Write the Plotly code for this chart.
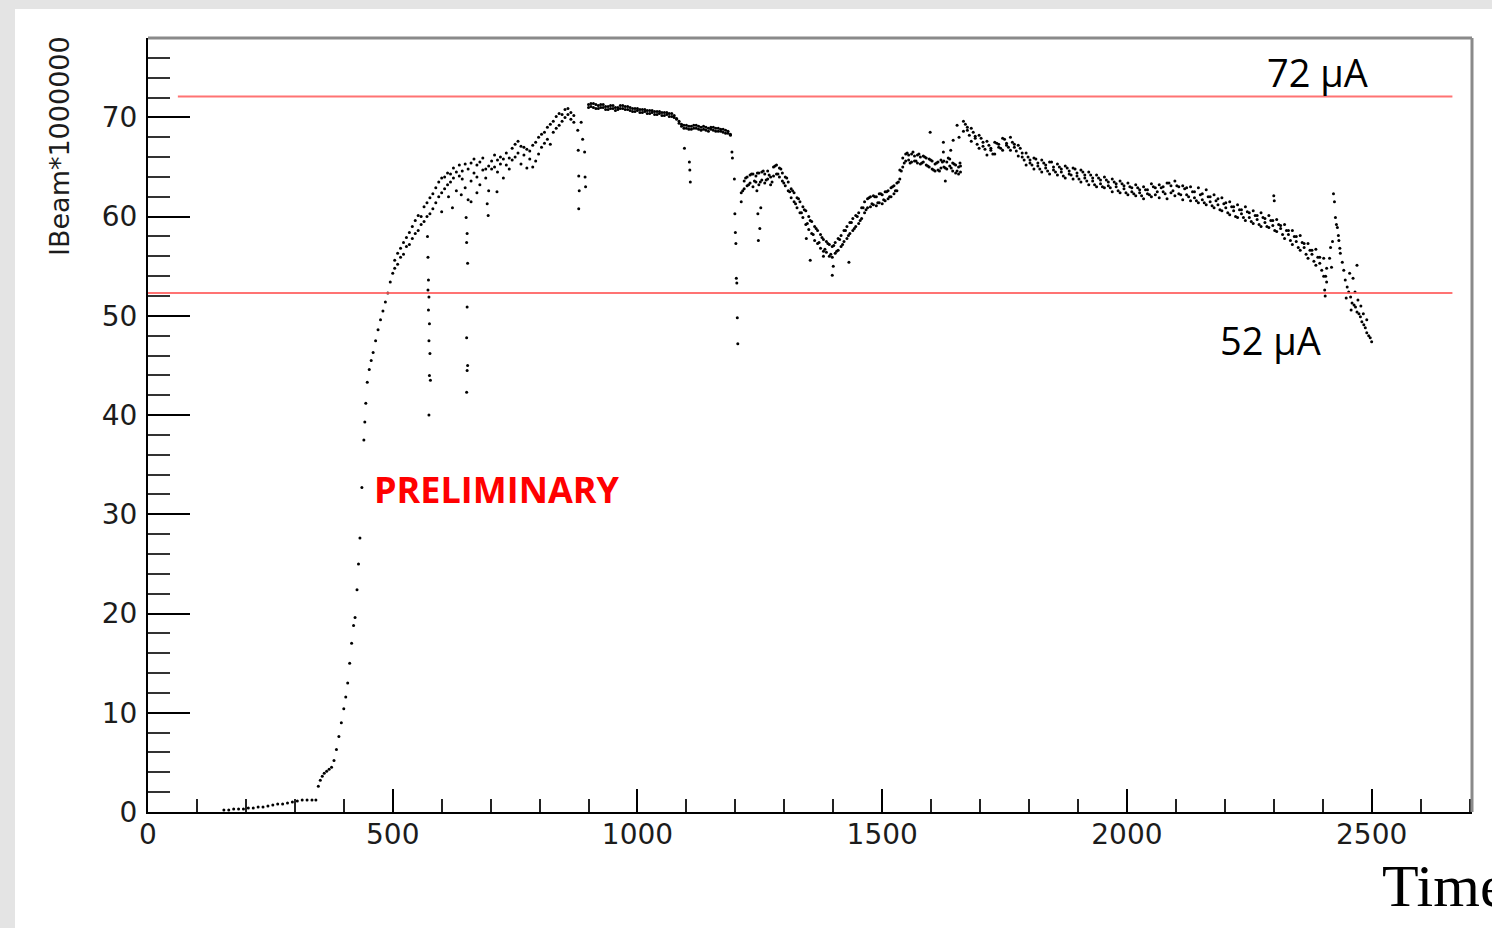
import plotly.graph_objects as go

# ---------------- data ----------------
t_start = [155, 165, 175, 185, 195, 205, 215, 225, 235, 245, 255, 265, 275, 285, 295, 305, 315, 325, 335, 343]
i_start = [0.2, 0.2, 0.3, 0.3, 0.3, 0.4, 0.4, 0.5, 0.5, 0.6, 0.7, 0.8, 0.8, 0.9, 1.0, 1.1, 1.2, 1.2, 1.2, 1.2]

t_rise = [348, 352, 356, 360, 365, 370, 375, 380, 385, 390, 395, 400, 404, 408, 412, 416, 420, 423, 427, 430,
          433, 437, 441, 443, 445, 448, 452, 456, 460, 465, 470, 475, 480, 485, 490, 495, 500]
i_rise = [2.6, 3.2, 3.6, 3.9, 4.1, 4.3, 4.5, 5.2, 6.3, 7.6, 9.0, 10.4, 11.6, 13.0, 15.0, 17.0, 18.8, 19.6, 22.4, 25.0,
          27.6, 32.7, 37.5, 39.3, 41.2, 43.3, 44.6, 45.5, 46.3, 47.5, 48.6, 49.6, 50.5, 51.4, 52.3, 53.4, 54.3]

t_climb = [504, 510, 516, 522, 528, 534, 540, 546, 552, 558, 564, 570, 576, 582, 588, 594, 600, 606, 612, 618,
           624, 630, 636, 642, 648, 654, 660, 666, 672, 678, 684, 690, 696, 702, 708, 714, 720, 726, 732, 738,
           744, 750, 756, 762, 768, 774, 780, 786, 792, 798, 804, 810, 816, 822, 828, 834, 840, 846, 852, 858,
           864, 870]
i_climb_lo = [54.8, 55.2, 55.9, 56.2, 57.0, 57.2, 57.8, 58.3, 58.6, 59.2, 59.5, 60.0, 60.3, 60.8, 61.4, 62.0, 62.4, 62.8, 63.2, 63.5,
              63.9, 62.6, 64.1, 63.8, 62.9, 61.7, 63.6, 64.4, 64.0, 63.2, 64.7, 63.9, 62.6, 64.8, 65.0, 64.5, 65.3, 63.9, 65.2, 64.8,
              65.7, 66.0, 66.4, 65.3, 66.2, 64.9, 65.8, 65.0, 65.6, 66.3, 67.0, 67.4, 67.8, 67.3, 68.5, 68.9, 69.2, 69.6, 70.0, 70.3,
              69.8, 69.5]
i_climb_hi = [55.6, 56.3, 56.8, 57.4, 57.9, 58.4, 59.0, 59.6, 60.1, 60.0, 61.0, 61.4, 61.9, 62.3, 62.9, 63.5, 63.9, 64.0, 64.4, 64.3,
              64.9, 64.5, 65.2, 64.6, 65.3, 64.8, 65.4, 65.8, 65.2, 65.5, 65.9, 64.8, 65.1, 65.6, 66.2, 65.7, 66.0, 65.8, 66.4, 65.9,
              66.9, 67.3, 67.6, 67.1, 67.0, 66.8, 66.6, 67.2, 67.5, 68.0, 68.3, 68.5, 69.0, 69.3, 69.6, 70.1, 70.4, 70.3, 70.8, 70.9,
              70.5, 70.2]

t_plateau = [900, 905, 910, 915, 920, 925, 930, 935, 940, 945, 950, 955, 960, 965, 970, 975, 980, 985, 990, 995,
             1000, 1005, 1010, 1015, 1020, 1025, 1030, 1035, 1040, 1045, 1050, 1055, 1060, 1065, 1070, 1075, 1080, 1085, 1090, 1095,
             1100, 1105, 1110, 1115, 1120, 1125, 1130, 1135, 1140, 1145, 1150, 1155, 1160, 1165, 1170, 1175, 1180, 1185, 1190]
i_plateau_a = [71.3, 71.1, 71.4, 70.9, 71.2, 71.0, 71.3, 70.8, 71.1, 70.9, 71.2, 70.7, 71.0, 71.2, 70.9, 71.1, 70.8, 71.0, 70.6, 70.9,
               70.7, 70.5, 70.8, 70.6, 70.4, 70.7, 70.5, 70.3, 70.6, 70.4, 70.2, 70.5, 70.3, 70.1, 70.4, 70.0, 69.8, 69.4, 69.1, 68.9,
               69.2, 68.8, 69.1, 68.9, 69.2, 68.8, 69.0, 69.1, 68.7, 68.9, 69.0, 68.7, 68.9, 68.6, 68.8, 68.5, 68.7, 68.4, 68.2]
i_plateau_b = [71.0, 71.4, 71.0, 71.3, 70.9, 71.3, 71.0, 71.1, 70.8, 71.2, 70.9, 71.0, 70.8, 70.9, 71.2, 70.8, 71.1, 70.7, 70.9, 70.6,
               70.9, 70.8, 70.5, 70.8, 70.7, 70.4, 70.7, 70.6, 70.3, 70.6, 70.5, 70.2, 70.5, 70.4, 70.1, 70.2, 69.9, 69.6, 69.3, 69.2,
               68.9, 69.1, 68.8, 69.2, 68.9, 69.1, 68.7, 68.8, 69.0, 68.6, 68.8, 69.0, 68.6, 68.9, 68.6, 68.8, 68.4, 68.6, 68.3]

t_valley = [1212, 1218, 1224, 1230, 1236, 1242, 1248, 1254, 1260, 1266, 1272, 1278, 1284, 1290, 1296, 1302, 1308, 1314, 1320, 1326,
            1332, 1338, 1344, 1350, 1356, 1362, 1368, 1374, 1380, 1386, 1392, 1398, 1404, 1410, 1416, 1422, 1428, 1434, 1440, 1446,
            1452, 1458, 1464, 1470, 1476, 1482, 1488, 1494, 1500, 1506, 1512, 1518, 1524, 1530, 1536, 1542, 1548, 1554, 1560, 1566,
            1572, 1578, 1584, 1590, 1596, 1602, 1608, 1614, 1620, 1626, 1632, 1638, 1644, 1650, 1656, 1660]
i_valley_lo = [61.5, 62.8, 63.1, 63.4, 63.0, 63.5, 63.2, 63.7, 63.4, 63.8, 63.2, 64.1, 64.3, 64.0, 63.6, 63.1, 62.6, 61.9, 61.5, 60.9,
               60.4, 59.9, 59.2, 58.7, 58.3, 57.6, 57.3, 56.8, 56.5, 56.4, 56.0, 55.9, 56.3, 56.6, 57.0, 57.5, 57.8, 58.3, 58.6, 59.0,
               59.3, 59.8, 60.4, 60.9, 61.0, 61.2, 61.1, 61.4, 61.3, 61.6, 61.8, 62.0, 62.3, 62.6, 63.8, 65.0, 65.6, 65.7, 65.5, 65.6,
               65.4, 65.3, 65.5, 65.2, 65.0, 64.8, 64.6, 64.7, 64.9, 65.0, 64.8, 65.1, 64.6, 64.4, 64.3, 64.5]
i_valley_hi = [62.4, 63.6, 64.0, 64.2, 64.3, 64.1, 64.4, 64.5, 64.3, 64.6, 64.0, 65.0, 65.2, 64.9, 64.4, 64.0, 63.5, 62.8, 62.4, 61.9,
               61.5, 61.0, 60.6, 60.0, 59.5, 59.0, 58.6, 58.2, 57.7, 57.5, 57.2, 57.0, 57.4, 57.8, 58.1, 58.6, 59.0, 59.4, 59.8, 60.1,
               60.4, 60.9, 61.5, 61.8, 62.0, 62.1, 62.0, 62.3, 62.2, 62.5, 62.6, 62.9, 63.1, 63.4, 64.7, 65.9, 66.3, 66.2, 66.3, 66.1,
               66.2, 66.0, 66.1, 65.9, 65.8, 65.6, 65.3, 65.5, 65.7, 65.6, 65.5, 65.8, 65.4, 65.2, 65.0, 65.1]
t_valley_mid = [1215, 1221, 1227, 1233, 1239, 1245, 1251, 1257, 1263, 1269, 1275, 1281, 1287, 1293, 1299, 1305, 1311, 1317, 1323, 1329,
                1335, 1341, 1347, 1353, 1359, 1365, 1371, 1377, 1383, 1389, 1395, 1401, 1407, 1413, 1419, 1425, 1431, 1437, 1443, 1449,
                1455, 1461, 1467, 1473, 1479, 1485, 1491, 1497, 1503, 1509, 1515, 1521, 1527, 1533, 1539, 1545, 1551, 1557, 1563, 1569,
                1575, 1581, 1587, 1593, 1599, 1605, 1611, 1617, 1623, 1629, 1635, 1641, 1647, 1653, 1659]
i_valley_mid = [62.6, 63.9, 63.2, 64.3, 63.6, 64.4, 63.5, 64.6, 63.7, 64.2, 63.5, 65.1, 64.3, 64.8, 63.4, 63.9, 62.5, 62.6, 61.3, 61.8,
                60.4, 60.7, 59.3, 59.6, 58.2, 58.8, 57.4, 57.9, 56.7, 57.3, 56.2, 57.1, 56.5, 57.7, 57.2, 58.6, 58.1, 59.4, 58.8, 60.0,
                59.6, 60.9, 60.7, 61.9, 61.3, 62.0, 61.4, 62.3, 61.7, 62.5, 62.0, 63.0, 62.6, 63.5, 64.6, 65.4, 66.4, 65.4, 66.5, 65.6,
                66.3, 65.4, 66.0, 65.1, 65.7, 64.7, 65.4, 64.6, 65.5, 64.9, 65.9, 64.9, 65.3, 64.6, 65.4]

t_decline = [1666, 1674, 1682, 1690, 1698, 1706, 1714, 1722, 1730, 1738, 1746, 1754, 1762, 1770, 1778, 1786, 1794, 1802, 1810, 1818,
             1826, 1834, 1842, 1850, 1858, 1866, 1874, 1882, 1890, 1898, 1906, 1914, 1922, 1930, 1938, 1946, 1954, 1962, 1970, 1978,
             1986, 1994, 2002, 2010, 2018, 2026, 2034, 2042, 2050, 2058, 2066, 2074, 2082, 2090, 2098, 2106, 2114, 2122, 2130, 2138,
             2146, 2154, 2162, 2170, 2178, 2186, 2194, 2202, 2210, 2218, 2226, 2234, 2242, 2250, 2258, 2266, 2274, 2282, 2290, 2298,
             2306, 2314, 2322, 2330, 2338, 2346, 2354, 2362, 2370, 2378, 2386, 2394, 2402, 2408]
i_decline_lo = [68.6, 68.7, 67.6, 67.9, 66.9, 67.1, 66.2, 66.7, 66.3, 67.0, 66.7, 67.2, 66.7, 67.0, 66.1, 66.0, 65.2, 65.4, 64.8, 65.1,
                64.5, 64.9, 64.3, 64.7, 64.2, 64.5, 63.9, 64.3, 63.8, 64.1, 63.5, 63.9, 63.2, 63.6, 63.0, 63.3, 62.9, 63.1, 62.5, 63.0,
                62.4, 62.8, 62.2, 62.5, 62.1, 62.4, 61.8, 62.3, 62.0, 62.2, 61.9, 62.5, 61.8, 62.4, 62.1, 62.3, 61.7, 62.2, 61.6, 61.9,
                61.4, 61.7, 61.2, 61.5, 60.9, 61.2, 60.6, 60.9, 60.2, 60.6, 59.9, 60.3, 59.6, 59.9, 59.3, 59.7, 59.0, 59.4, 58.9, 59.1,
                58.5, 58.8, 57.8, 58.2, 57.2, 57.5, 56.6, 56.9, 55.8, 56.2, 55.1, 55.3, 54.0, 53.4]
i_decline_hi = [69.6, 69.0, 68.9, 68.1, 68.2, 67.5, 67.6, 66.9, 67.5, 67.3, 67.9, 67.4, 68.0, 67.3, 67.2, 66.4, 66.4, 65.7, 65.9, 65.4,
                65.7, 65.2, 65.5, 65.0, 65.3, 64.8, 65.1, 64.6, 64.9, 64.4, 64.7, 64.2, 64.5, 63.9, 64.2, 63.7, 64.0, 63.5, 63.8, 63.3,
                63.6, 63.1, 63.4, 62.9, 63.2, 62.7, 63.0, 62.7, 63.3, 62.9, 63.2, 63.0, 63.4, 63.1, 63.6, 63.0, 63.1, 62.9, 63.0, 62.5,
                62.9, 62.3, 62.7, 62.0, 62.2, 61.8, 61.9, 61.4, 61.5, 61.0, 61.2, 60.7, 61.0, 60.4, 60.6, 60.1, 60.4, 59.8, 60.1, 59.6,
                59.7, 59.1, 59.2, 58.6, 58.6, 58.0, 58.1, 57.3, 57.3, 56.6, 56.7, 55.9, 55.8, 54.8]
t_decline_mid = [1670, 1678, 1686, 1694, 1702, 1710, 1718, 1726, 1734, 1742, 1750, 1758, 1766, 1774, 1782, 1790, 1798, 1806, 1814, 1822,
                 1830, 1838, 1846, 1854, 1862, 1870, 1878, 1886, 1894, 1902, 1910, 1918, 1926, 1934, 1942, 1950, 1958, 1966, 1974, 1982,
                 1990, 1998, 2006, 2014, 2022, 2030, 2038, 2046, 2054, 2062, 2070, 2078, 2086, 2094, 2102, 2110, 2118, 2126, 2134, 2142,
                 2150, 2158, 2166, 2174, 2182, 2190, 2198, 2206, 2214, 2222, 2230, 2238, 2246, 2254, 2262, 2270, 2278, 2286, 2294, 2302,
                 2310, 2318, 2326, 2334, 2342, 2350, 2358, 2366, 2374, 2382, 2390, 2398, 2406]
i_decline_mid = [69.3, 68.2, 68.5, 67.3, 67.9, 66.8, 67.2, 66.3, 67.4, 66.9, 67.8, 67.0, 67.5, 66.6, 66.9, 65.7, 66.0, 65.2, 65.8, 64.8,
                 65.4, 64.6, 65.5, 64.5, 65.0, 64.1, 64.9, 64.2, 64.8, 63.8, 64.5, 63.6, 64.2, 63.2, 63.9, 63.0, 63.7, 62.9, 63.5, 62.6,
                 63.3, 62.4, 63.0, 62.3, 62.9, 62.1, 62.7, 62.2, 63.0, 62.5, 62.9, 62.3, 63.4, 62.6, 63.1, 62.2, 62.8, 62.0, 62.5, 61.6,
                 62.2, 61.4, 62.0, 61.1, 61.6, 60.7, 61.3, 60.4, 61.0, 60.0, 60.7, 59.9, 60.5, 59.5, 60.1, 59.2, 59.9, 59.0, 59.6, 58.6,
                 59.2, 58.2, 58.6, 57.6, 58.0, 56.9, 57.4, 56.2, 56.6, 55.5, 55.9, 54.6, 54.0]

t_tail = [2422, 2424, 2426, 2428, 2430, 2432, 2433, 2435, 2436, 2440, 2443, 2446, 2450, 2453, 2457, 2460, 2464, 2467, 2470, 2474,
          2477, 2480, 2484, 2487, 2490, 2494, 2497, 2470, 2462, 2455, 2466, 2472, 2448, 2458, 2478, 2483, 2490, 2500]
i_tail = [62.3, 61.5, 59.9, 59.2, 58.9, 58.1, 57.6, 56.8, 56.3, 55.4, 54.6, 53.6, 52.9, 52.4, 51.9, 51.3, 51.1, 50.9, 50.4, 50.2,
          49.9, 49.4, 49.1, 48.8, 48.3, 48.0, 47.8, 55.1, 53.8, 54.3, 52.4, 51.6, 51.8, 50.6, 51.0, 50.2, 49.6, 47.4]

# sparse dropout points (beam trips) and scatter
t_drop = [571, 572, 573, 572, 574, 573, 575, 574, 576, 575, 577, 574,
          650, 652, 651, 653, 652, 651, 653, 652, 651,
          600, 614, 622, 640, 660, 672, 695, 693, 713,
          878, 879, 880, 881, 880, 892, 893, 894, 885, 888,
          1096, 1106, 1107, 1108,
          1193, 1194, 1198, 1199, 1200, 1201, 1202, 1203, 1204, 1205,
          1244, 1246, 1247, 1250, 1252,
          1353, 1380, 1398, 1400, 1432, 1345,
          1598, 1625, 1625, 1629, 1645, 1653, 1657, 1640,
          2300, 2301, 2404, 2405, 2414, 2416, 2418, 2420]
i_drop = [58.0, 55.9, 53.6, 52.6, 51.9, 50.6, 49.2, 47.5, 46.2, 44.0, 43.5, 40.0,
          59.9, 58.3, 57.4, 55.3, 50.9, 47.8, 45.0, 44.5, 42.3,
          60.5, 62.0, 60.9, 62.2, 61.5, 62.4, 60.1, 61.3, 62.5,
          68.7, 66.7, 64.1, 62.6, 60.8, 66.5, 64.0, 63.0, 69.5, 67.8,
          66.9, 65.5, 64.7, 63.5,
          66.5, 65.9, 63.8, 60.3, 58.4, 57.3, 53.8, 53.3, 49.8, 47.2,
          62.6, 60.3, 57.6, 58.8, 60.9,
          55.6, 56.0, 54.1, 55.0, 55.4, 57.8,
          68.5, 67.5, 66.5, 63.6, 67.7, 69.2, 68.0, 66.7,
          62.1, 61.6, 52.6, 52.0, 55.8, 56.9, 54.9, 57.5]

x_max, y_max = 2705, 78
line_hi, line_lo = 72.1, 52.3

# ---------------- assemble ----------------
xs, ys = [], []
def add(ts, vals):
    for t, v in zip(ts, vals):
        xs.append(t)
        ys.append(v)

add(t_start, i_start)
add(t_rise, i_rise)
add(t_climb, i_climb_lo)
add(t_climb, i_climb_hi)
add(t_plateau, i_plateau_a)
add(t_plateau, i_plateau_b)
add(t_valley, i_valley_lo)
add(t_valley, i_valley_hi)
add(t_valley_mid, i_valley_mid)
add(t_decline, i_decline_lo)
add(t_decline, i_decline_hi)
add(t_decline_mid, i_decline_mid)
add(t_tail, i_tail)
add(t_drop, i_drop)

fig = go.Figure(go.Scatter(x=xs, y=ys, mode="markers",
                           marker=dict(size=3, color="black", line=dict(width=0)),
                           hoverinfo="skip", showlegend=False))

W, H = 1492, 928
ML, MR, MT, MB = 148, 20, 38, 116
PW, PH = W - ML - MR, H - MT - MB

def px(x):
    return (x - ML) / PW

def py(y):
    return (H - MB - y) / PH

tickfont = dict(family="DejaVu Sans", size=28, color="#1c1c1c")

fig.update_layout(
    width=W, height=H,
    margin=dict(l=ML, r=MR, t=MT, b=MB, pad=0),
    paper_bgcolor="white", plot_bgcolor="white",
    xaxis=dict(range=[0, x_max], showgrid=False, zeroline=False,
               showline=True, linecolor="black", linewidth=2,
               ticks="inside", ticklen=23, tickwidth=2, tickcolor="black",
               tick0=0, dtick=500, tickfont=tickfont, ticklabelstandoff=-4,
               minor=dict(ticks="inside", ticklen=13, tickwidth=2, tickcolor="#222", dtick=100)),
    yaxis=dict(range=[0, y_max], showgrid=False, zeroline=False,
               showline=True, linecolor="black", linewidth=2,
               ticks="inside", ticklen=42, tickwidth=2, tickcolor="black",
               tick0=0, dtick=10, tickfont=tickfont, ticklabelstandoff=3,
               minor=dict(ticks="inside", ticklen=22, tickwidth=2, tickcolor="#333", dtick=2)),
    shapes=[
        # grey window background strips
        dict(type="rect", xref="paper", yref="paper", x0=px(0), x1=px(15), y0=py(H), y1=py(0),
             fillcolor="#e4e4e4", line=dict(width=0), layer="below"),
        dict(type="rect", xref="paper", yref="paper", x0=px(0), x1=px(W), y0=py(9), y1=py(0),
             fillcolor="#e4e4e4", line=dict(width=0), layer="below"),
        # frame top / right
        dict(type="line", xref="paper", yref="paper", x0=0, x1=1, y0=1, y1=1,
             line=dict(color="#8a8a8a", width=3)),
        dict(type="line", xref="paper", yref="paper", x0=1, x1=1, y0=0, y1=1,
             line=dict(color="#8a8a8a", width=3)),
        # reference lines
        dict(type="line", xref="x", yref="y", x0=61, x1=2665, y0=line_hi, y1=line_hi,
             line=dict(color="rgba(255,90,90,0.85)", width=2)),
        dict(type="line", xref="x", yref="y", x0=0, x1=2665, y0=line_lo, y1=line_lo,
             line=dict(color="rgba(255,90,90,0.85)", width=2)),
    ],
    annotations=[
        dict(text="IBeam*1000000", xref="paper", yref="paper", x=px(59), y=py(146),
             textangle=-90, showarrow=False, xanchor="center", yanchor="middle",
             font=dict(family="DejaVu Sans", size=27, color="#1c1c1c")),
        dict(text="Time", xref="paper", yref="paper", x=px(1380), y=py(886),
             showarrow=False, xanchor="left", yanchor="middle",
             font=dict(family="Liberation Serif", size=60, color="black")),
        dict(text="72 μA", xref="x", yref="y", x=2389, y=74.6,
             showarrow=False, xanchor="center", yanchor="middle",
             font=dict(family="Open Sans", size=38, color="black")),
        dict(text="52 μA", xref="x", yref="y", x=2293, y=47.6,
             showarrow=False, xanchor="center", yanchor="middle",
             font=dict(family="Open Sans", size=38, color="black")),
        dict(text="<b>PRELIMINARY</b>", xref="x", yref="y", x=458, y=32.5,
             showarrow=False, xanchor="left", yanchor="middle",
             font=dict(family="Open Sans", size=36, color="#ff0000")),
    ],
)

fig.write_html("out.html", config={"displayModeBar": False})
